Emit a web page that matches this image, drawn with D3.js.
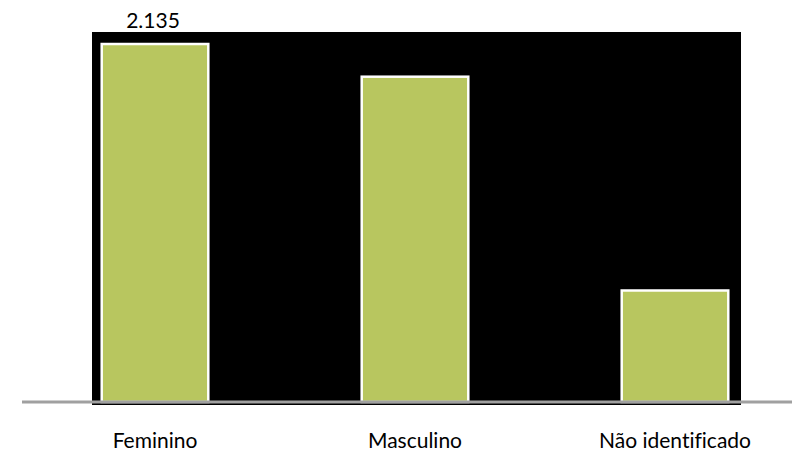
<!DOCTYPE html>
<html><head><meta charset="utf-8">
<script src="https://cdn.jsdelivr.net/npm/d3@7/dist/d3.min.js"></script>
<style>body{margin:0;background:#fff}svg{display:block}text{font-variant-ligatures:none}</style>
</head><body><svg id="c" width="792" height="452"></svg>
<script>
const categories = ["Feminino", "Masculino", "Não identificado"];
const values = [2135, 1940, 665];
const valueLabels = ["2.135", "", ""];

const svg = d3.select("#c");
const W = 792, H = 452;
const baseY = 402;
const x = d3.scaleBand().domain(categories).range([25, 805]).paddingInner(0.59).paddingOuter(0.295);
const y = d3.scaleLinear().domain([0, 2135]).range([baseY, 44]);

// black plot background
svg.append("rect").attr("x", 92).attr("y", 32).attr("width", 649).attr("height", baseY - 32 + 3).attr("fill", "#000");

svg.selectAll("rect.bar").data(values).join("rect").attr("class", "bar")
  .attr("x", (d, i) => x(categories[i]))
  .attr("y", d => y(d))
  .attr("width", x.bandwidth())
  .attr("height", d => baseY - y(d))
  .attr("fill", "#b8c65f").attr("stroke", "#fff").attr("stroke-width", 2.5);

svg.append("line").attr("x1", 22).attr("x2", W).attr("y1", baseY).attr("y2", baseY)
  .attr("stroke", "#a0a0a0").attr("stroke-width", 3);

svg.selectAll("text.cat").data(categories).join("text").attr("class", "cat")
  .attr("x", d => x(d) + x.bandwidth() / 2).attr("y", 448)
  .attr("text-anchor", "middle").attr("font-family", "Lato, sans-serif").attr("font-size", 21)
  .attr("fill", "#000").text(d => d);

svg.selectAll("text.val").data(values).join("text").attr("class", "val")
  .attr("x", (d, i) => x(categories[i]) + x.bandwidth() / 2 - 2).attr("y", d => y(d) - 16)
  .attr("text-anchor", "middle").attr("font-family", "Lato, sans-serif").attr("font-size", 21)
  .attr("fill", "#000").text((d, i) => valueLabels[i]);
</script></body></html>
